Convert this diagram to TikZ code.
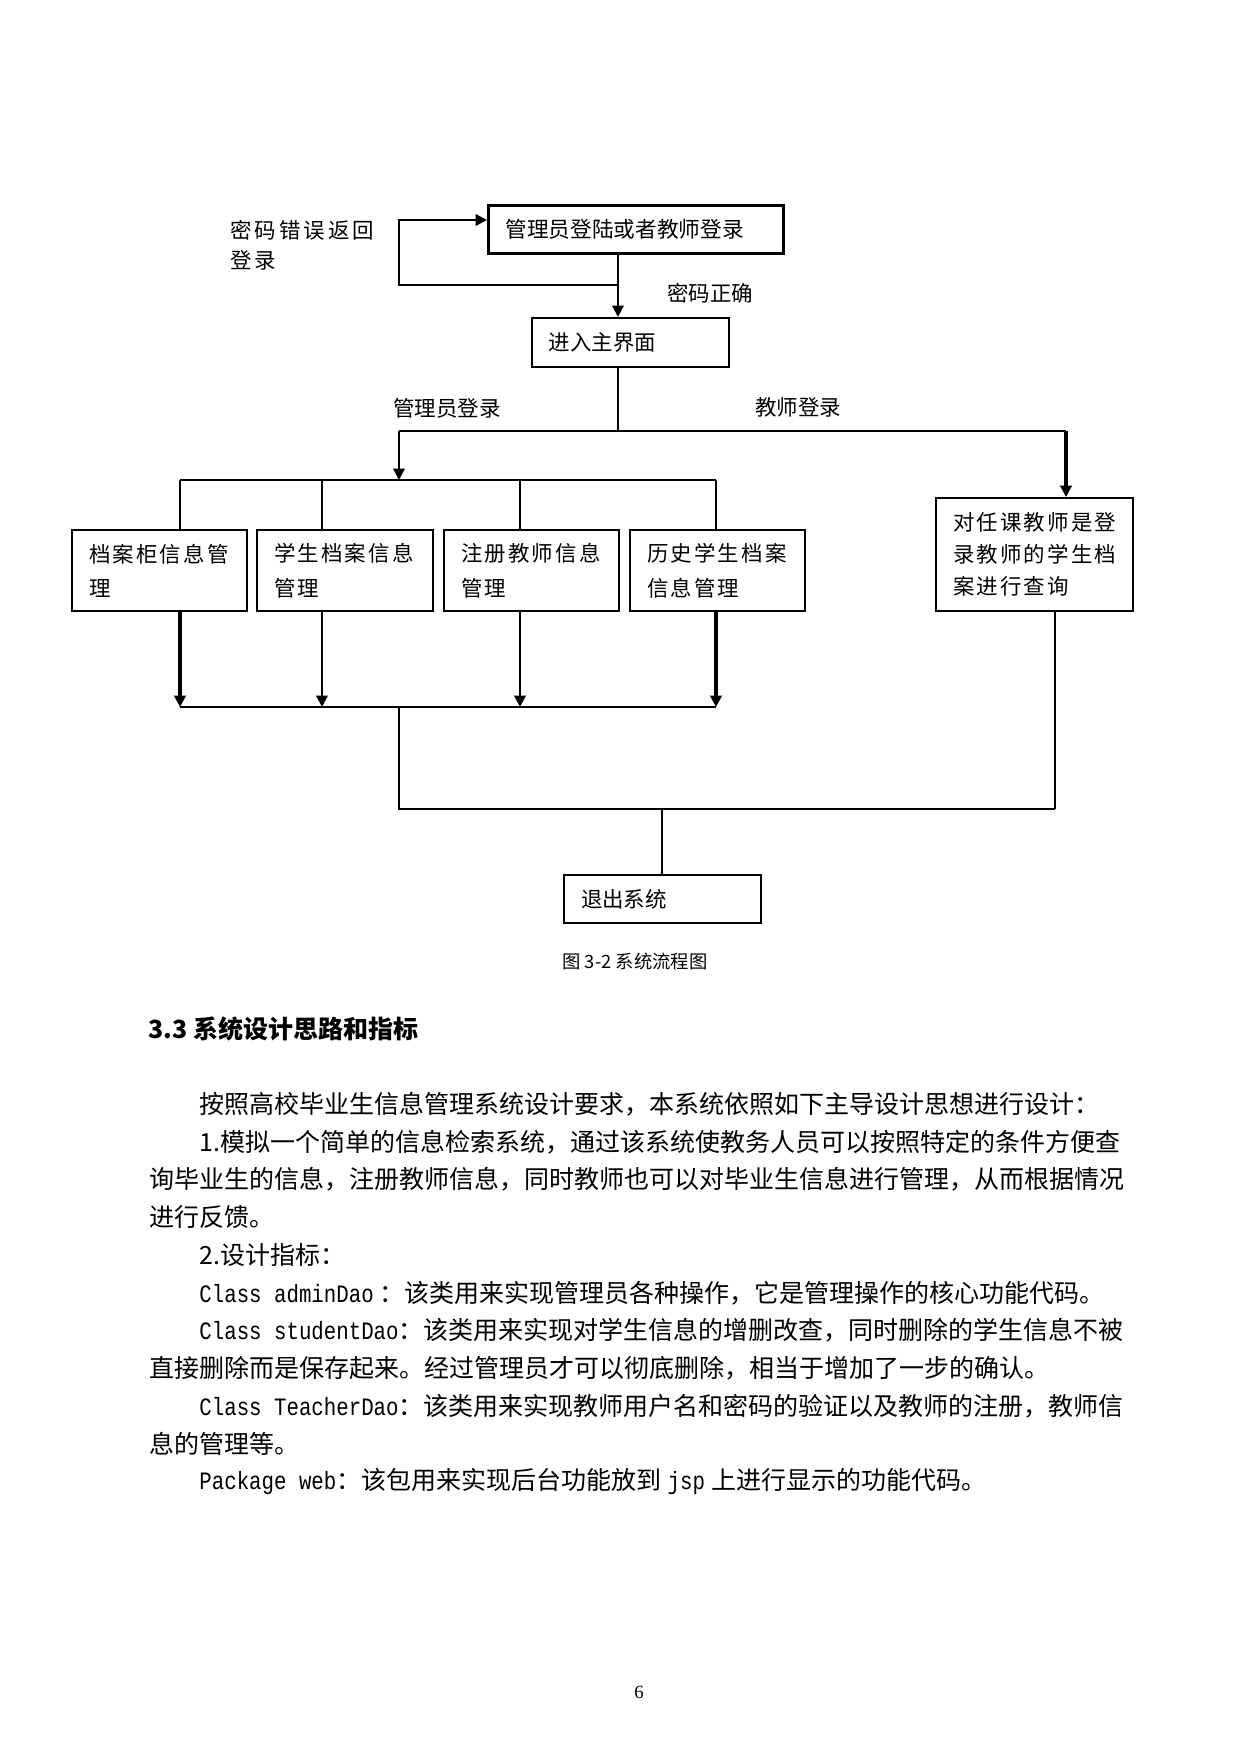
\documentclass[tikz,border=0pt]{standalone}
\usepackage{fontspec}
\usetikzlibrary{arrows.meta}
\newfontfamily\cjk{Noto Sans CJK SC}
\newfontfamily\cjksp[LetterSpace=10]{Noto Sans CJK SC}
\newfontfamily\cjkwide[LetterSpace=14]{Noto Sans CJK SC}
\newfontfamily\timesf{Liberation Serif}
\newfontfamily\latf[FakeStretch=0.83]{Liberation Mono}
\newdimen\pxu \pxu=0.48pt
\newcommand\lat[1]{{\latf #1}}

\tikzset{
  procbox/.style={draw, line width=1.1pt, anchor=north west, align=left,
    inner xsep=17\pxu, inner ysep=0pt, font=\cjksp\fontsize{10.3}{16.5}\selectfont},
  lbl/.style={anchor=west, inner sep=0pt, font=\cjk\fontsize{10.3}{14.4}\selectfont},
  bodyline/.style={anchor=west, inner sep=0pt, font=\cjk\fontsize{12}{18}\selectfont},
  arr/.style={-{Triangle[length=5.5pt,width=5.5pt]}},
  thinline/.style={line width=0.5pt},
  midline/.style={line width=1pt},
  thickline/.style={line width=1.5pt},
}

\begin{document}
\begin{tikzpicture}[x=0.48pt, y=-0.48pt]
    \useasboundingbox[fill=white] (0,0) rectangle (1241,1754);

    % Login and main screen
    \node[procbox, line width=1.3pt, text width=261\pxu, minimum height=48\pxu, font=\cjk\fontsize{10.4}{16.5}\selectfont] (login) at (487,204) {管理员登陆或者教师登录};
    \node[procbox, line width=0.8pt, text width=163\pxu, minimum height=49\pxu, font=\cjk\fontsize{10.3}{16.5}\selectfont] (main) at (531,317) {进入主界面};

    % Admin functions
    \node[procbox, text width=141\pxu, minimum height=81\pxu] (m1) at (71,529) {档案柜信息管\\理};
    \node[procbox, text width=142\pxu, minimum height=81\pxu] (m2) at (256,529) {学生档案信息\\管理};
    \node[procbox, text width=141\pxu, minimum height=81\pxu] (m3) at (443,529) {注册教师信息\\管理};
    \node[procbox, text width=141\pxu, minimum height=81\pxu] (m4) at (629,529) {历史学生档案\\信息管理};

    % Teacher function
    \node[procbox, line width=1pt, text width=163\pxu, minimum height=113\pxu, font=\cjksp\fontsize{10.3}{15.5}\selectfont] (query) at (935,497) {对任课教师是登\\录教师的学生档\\案进行查询};

    % Exit
    \node[procbox, line width=1pt, text width=163\pxu, minimum height=48\pxu, font=\cjk\fontsize{10.3}{16.5}\selectfont] (quit) at (563,874) {退出系统};

    % Labels
    \node[lbl, align=left, font=\cjkwide\fontsize{10.3}{14.4}\selectfont] (retry) at (230,245) {密码错误返回\\登录};
    \node[lbl] (okpass) at (667,293) {密码正确};
    \node[lbl] (adminlbl) at (393,408) {管理员登录};
    \node[lbl] (teachlbl) at (755,407) {教师登录};
    \node[lbl, font=\cjk\fontsize{8.8}{10}\selectfont] (caption) at (562,961) {图 3-2 系统流程图};

    % Password loop
    \coordinate (loopR) at (618,285);
    \coordinate (loopL) at (399,285);
    \coordinate (loopT) at (399,220);
    \draw[midline, arr] (loopR |- login.south) -- (loopR |- main.north);
    \draw[line width=1.2pt, arr] (loopR) -- (loopL) -- (loopT) -- (loopT -| login.west);

    % Fork below main screen
    \coordinate (fork) at (618,431);
    \coordinate (forkL) at (399,431);
    \coordinate (forkR) at (1066,431);
    \coordinate (abus) at (399,480);
    \draw[midline] (fork |- main.south) -- (fork);
    \draw[thinline] (forkL) -- (forkR);
    \draw[midline, arr] (forkL) -- (abus);
    \draw[thickline, arr] (forkR) -- (forkR |- query.north);

    % Admin buses
    \foreach \i/\xx in {1/180,2/322,3/520,4/716} {
        \coordinate (bus\i) at (\xx,480);
        \coordinate (low\i) at (\xx,707);
    }
    \draw[midline] (bus1) -- (bus4);
    \foreach \i in {1,...,4}
        \draw[thinline] (bus\i) -- (bus\i |- m\i.north);
    \foreach \i/\w in {1/1.5pt,2/1pt,3/1pt,4/1.5pt}
        \draw[line width=\w, arr] (bus\i |- m\i.south) -- (low\i);
    \draw[thinline] (low1) -- (low4);

    % Join to exit
    \coordinate (lowJ) at (399,707);
    \coordinate (endL) at (399,809);
    \coordinate (endR) at (1055,809);
    \coordinate (endM) at (662,809);
    \draw[midline] (lowJ) -- (endL) -- (endR);
    \draw[thinline] (endR |- query.south) -- (endR);
    \draw[midline] (endM) -- (endM |- quit.north);

    % Section text
    \node[bodyline, font=\cjk\bfseries\fontsize{12}{18}\selectfont] (sec) at (148,1029) {3.3 系统设计思路和指标};
    \node[bodyline] (l1) at (199,1104) {按照高校毕业生信息管理系统设计要求，本系统依照如下主导设计思想进行设计：};
    \node[bodyline] (l2) at (199,1142) {1.模拟一个简单的信息检索系统，通过该系统使教务人员可以按照特定的条件方便查};
    \node[bodyline] (l3) at (149,1179) {询毕业生的信息，注册教师信息，同时教师也可以对毕业生信息进行管理，从而根据情况};
    \node[bodyline] (l4) at (149,1217) {进行反馈。};
    \node[bodyline] (l5) at (199,1255) {2.设计指标：};
    \node[bodyline] (l6) at (199,1293) {\lat{Class adminDao} ：该类用来实现管理员各种操作，它是管理操作的核心功能代码。};
    \node[bodyline] (l7) at (199,1330) {\lat{Class studentDao}：该类用来实现对学生信息的增删改查，同时删除的学生信息不被};
    \node[bodyline] (l8) at (149,1368) {直接删除而是保存起来。经过管理员才可以彻底删除，相当于增加了一步的确认。};
    \node[bodyline] (l9) at (199,1406) {\lat{Class TeacherDao}：该类用来实现教师用户名和密码的验证以及教师的注册，教师信};
    \node[bodyline] (l10) at (149,1444) {息的管理等。};
    \node[bodyline] (l11) at (199,1481) {\lat{Package web}：该包用来实现后台功能放到\hspace{3pt}\lat{jsp}\hspace{3pt}上进行显示的功能代码。};

    % Page number
    \node[inner sep=0pt, font=\timesf\fontsize{9}{11}\selectfont] (pageno) at (639,1692) {6};

\end{tikzpicture}
\end{document}
